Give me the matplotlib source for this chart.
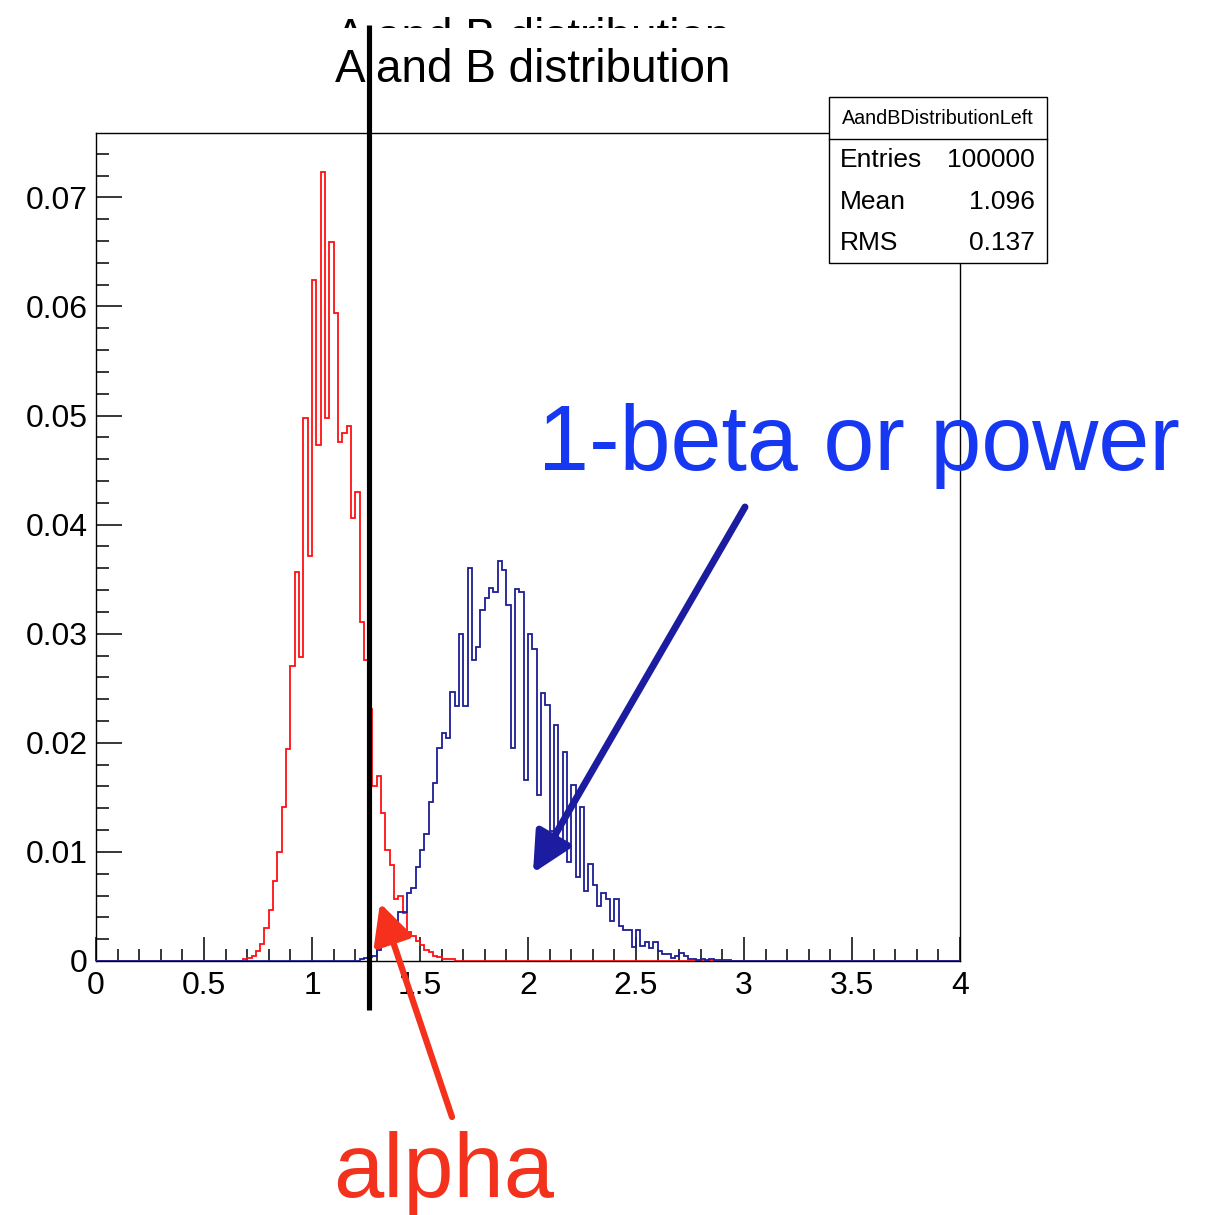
import matplotlib
matplotlib.use("Agg")
import matplotlib.pyplot as plt
import numpy as np
from matplotlib.patches import Rectangle, FancyArrowPatch
from matplotlib.lines import Line2D
from matplotlib.transforms import Bbox, TransformedBbox, blended_transform_factory

# ---------------- data ----------------
n_bins = 200
x_min, x_max = 0.0, 4.0
bin_width = 0.02

red_start = 0.68
red_vals = [0.0002, 0.0003, 0.0005, 0.0009, 0.0016, 0.0030, 0.0047, 0.0073, 0.0100,
            0.0141, 0.0194, 0.0270, 0.0357, 0.0279, 0.0498, 0.0371, 0.0624, 0.0473,
            0.0723, 0.0498, 0.0659, 0.0594, 0.0476, 0.0484, 0.0490, 0.0406, 0.0430,
            0.0311, 0.0276, 0.0231, 0.0160, 0.0170, 0.0136, 0.0102, 0.0088, 0.0057,
            0.0060, 0.0044, 0.0027, 0.0023, 0.0018, 0.0015, 0.0010, 0.0008, 0.0005,
            0.0004, 0.0002, 0.0002, 0.0002]

blue_start = 1.22
blue_vals = [0.0002, 0.0003, 0.0004, 0.0005, 0.0010, 0.0014, 0.0016, 0.0019, 0.0026,
             0.0045, 0.0045, 0.0062, 0.0067, 0.0086, 0.0102, 0.0116, 0.0146, 0.0163,
             0.0195, 0.0209, 0.0204, 0.0247, 0.0234, 0.0300, 0.0234, 0.0360, 0.0276,
             0.0288, 0.0322, 0.0333, 0.0342, 0.0338, 0.0367, 0.0358, 0.0326, 0.0195,
             0.0341, 0.0338, 0.0166, 0.0300, 0.0286, 0.0152, 0.0246, 0.0235, 0.0119,
             0.0216, 0.0108, 0.0192, 0.0091, 0.0161, 0.0077, 0.0141, 0.0064, 0.0089,
             0.0070, 0.0050, 0.0062, 0.0057, 0.0037, 0.0057, 0.0032, 0.0028, 0.0028,
             0.0013, 0.0028, 0.0014, 0.0017, 0.0012, 0.0017, 0.0009, 0.0006, 0.0006,
             0.0003, 0.0005, 0.0007, 0.0005, 0.0002, 0.0002, 0.0001, 0.00015, 0.0001,
             0.00015, 0.0001, 0.0001, 0.00005, 0.00005]

cut_value = 1.262

x_ticks = [0, 0.5, 1, 1.5, 2, 2.5, 3, 3.5, 4]
x_tick_labels = ["0", "0.5", "1", "1.5", "2", "2.5", "3", "3.5", "4"]
y_ticks = [0, 0.01, 0.02, 0.03, 0.04, 0.05, 0.06, 0.07]
y_tick_labels = ["0", "0.01", "0.02", "0.03", "0.04", "0.05", "0.06", "0.07"]

title = "A and B distribution"
stats_name = "AandBDistributionLeft"
stats_rows = [("Entries", "100000"), ("Mean", "1.096"), ("RMS", "0.137")]
power_label = "1-beta or power"
alpha_label = "alpha"

# ---------------- figure ----------------
W, H = 1221, 1215
fig = plt.figure(figsize=(W / 100, H / 100), dpi=100)
FONT = ["Liberation Sans", "DejaVu Sans"]


def fx(x):
    return x / W


def fy(y):
    return 1 - y / H


ax = fig.add_axes([fx(96), fy(961), fx(960) - fx(96), fy(133) - fy(961)])

edges = np.linspace(x_min, x_max, n_bins + 1)
red_full = np.zeros(n_bins)
i0 = int(round((red_start - x_min) / bin_width))
red_full[i0:i0 + len(red_vals)] = red_vals
blue_full = np.zeros(n_bins)
j0 = int(round((blue_start - x_min) / bin_width))
blue_full[j0:j0 + len(blue_vals)] = blue_vals

ax.stairs(red_full, edges, color="#ff1010", lw=1.3, zorder=3)
ax.stairs(blue_full, edges, color="#1e1e96", lw=1.3, zorder=3.1)

ax.set_xlim(x_min, x_max)
ax.set_ylim(0, 0.0759)

ax.set_xticks(x_ticks)
ax.set_xticklabels(x_tick_labels, fontsize=23, family=FONT)
ax.set_xticks(np.arange(0, 4.0001, 0.1), minor=True)
ax.set_yticks(y_ticks)
ax.set_yticklabels(y_tick_labels, fontsize=23, family=FONT)
ax.set_yticks(np.arange(0, 0.0751, 0.002), minor=True)

ax.tick_params(axis="x", which="major", direction="in", length=17, width=1.1, pad=7,
               top=False, colors="black")
ax.tick_params(axis="x", which="minor", direction="in", length=9, width=1.1, top=False)
ax.tick_params(axis="y", which="major", direction="in", length=18.5, width=1.1, pad=6,
               right=False)
ax.tick_params(axis="y", which="minor", direction="in", length=9.3, width=1.1, right=False)
for s in ax.spines.values():
    s.set_linewidth(1.0)
    s.set_color("black")

# ---------------- titles ----------------
fig.text(fx(533), fy(82), title, ha="center", va="baseline", fontsize=33,
         family=FONT, zorder=4)
dup = fig.text(fx(533), fy(51), title, ha="center", va="baseline", fontsize=33,
               family=FONT, zorder=4)
dup.set_clip_box(TransformedBbox(Bbox([[0, fy(28)], [1, 1]]), fig.transFigure))
dup.set_clip_on(True)

# ---------------- cut line ----------------
tr = blended_transform_factory(ax.transData, fig.transFigure)
fig.add_artist(Line2D([cut_value, cut_value], [fy(1010), fy(25)], transform=tr,
                      color="black", lw=3.7, zorder=6, solid_capstyle="butt"))

# ---------------- stats box ----------------
bx0, bx1, by0, by1, bsep = 829, 1047, 97, 263, 139
fig.add_artist(Rectangle((fx(bx0), fy(by1)), fx(bx1) - fx(bx0), fy(by0) - fy(by1),
                         transform=fig.transFigure, facecolor="white",
                         edgecolor="black", lw=1.0, zorder=5))
fig.add_artist(Line2D([fx(bx0), fx(bx1)], [fy(bsep), fy(bsep)],
                      transform=fig.transFigure, color="black", lw=1.0, zorder=5.1))
fig.text(fx((bx0 + bx1) / 2), fy(118), stats_name, ha="center", va="center",
         fontsize=14.2, family=FONT, zorder=6)
row_y = [160, 202, 243]
for (lab, val), yy in zip(stats_rows, row_y):
    fig.text(fx(840), fy(yy), lab, ha="left", va="center", fontsize=19,
             family=FONT, zorder=6)
    fig.text(fx(1035), fy(yy), val, ha="right", va="center", fontsize=19,
             family=FONT, zorder=6)

# ---------------- annotations ----------------
fig.text(fx(538), fy(470), power_label, ha="left", va="baseline", fontsize=66,
         family=FONT, color="#1638f2", zorder=6)
fig.text(fx(333), fy(1197), alpha_label, ha="left", va="baseline", fontsize=65,
         family=FONT, color="#f2321c", zorder=6)

fig.add_artist(FancyArrowPatch((fx(745), fy(507)), (fx(533), fy(873)),
                               transform=fig.transFigure,
                               arrowstyle="-|>,head_length=24,head_width=12",
                               color="#1c1ca0", lw=5, shrinkA=0, shrinkB=0,
                               zorder=7))
fig.add_artist(FancyArrowPatch((fx(452), fy(1117)), (fx(380), fy(903)),
                               transform=fig.transFigure,
                               arrowstyle="-|>,head_length=24,head_width=12",
                               color="#f5301c", lw=4.5, shrinkA=0, shrinkB=0,
                               zorder=7))

fig.savefig("out.png", dpi=100)
